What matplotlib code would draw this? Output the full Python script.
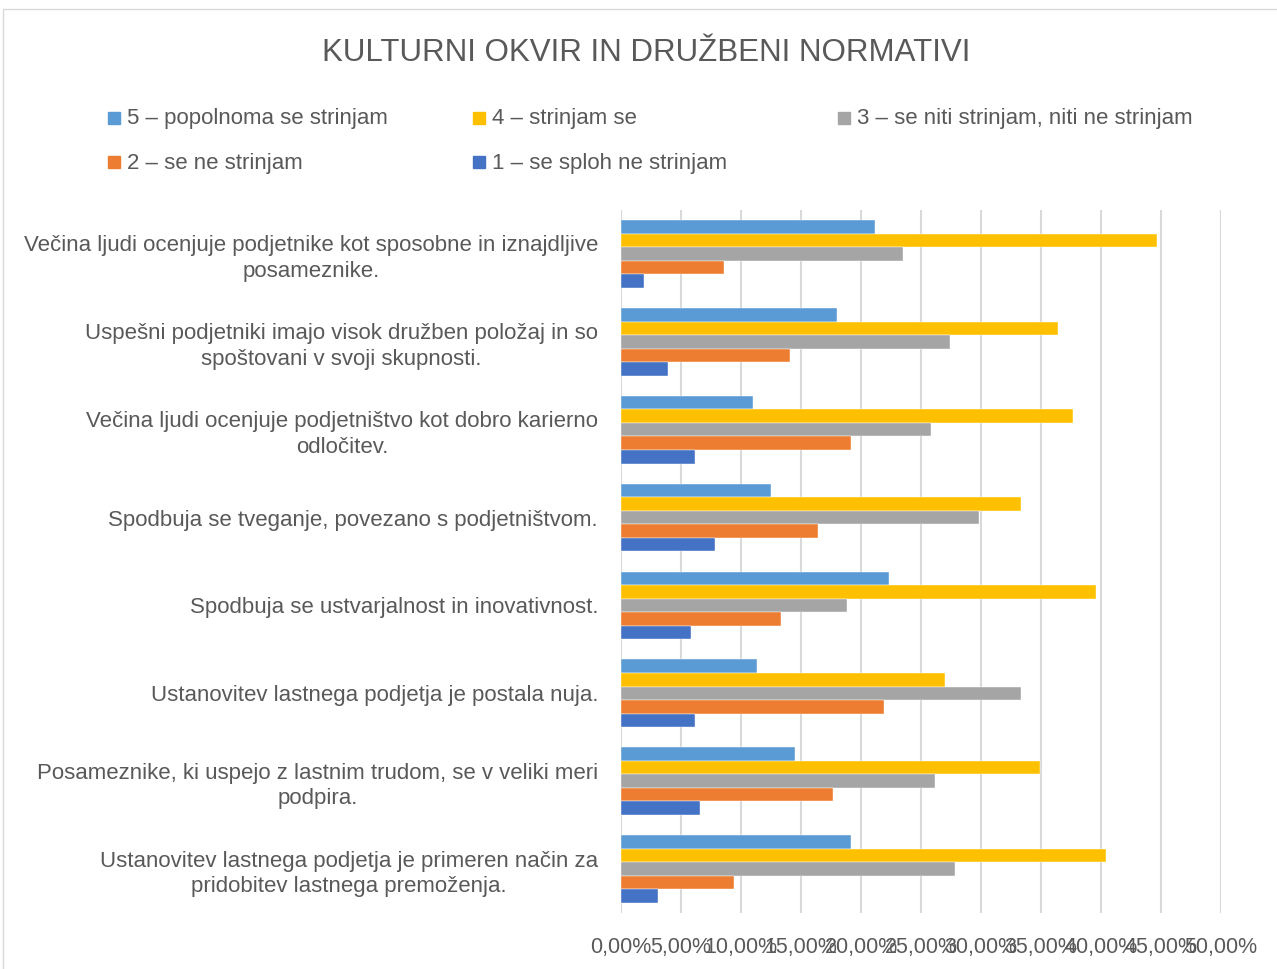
import matplotlib.pyplot as plt
from matplotlib.patches import Rectangle
from matplotlib.ticker import FuncFormatter

plt.rcParams['font.family'] = ['Liberation Sans', 'DejaVu Sans']

# Data (shares of respondents, %)
categories = [
    "Večina ljudi ocenjuje podjetnike kot sposobne in iznajdljive\nposameznike.",
    "Uspešni podjetniki imajo visok družben položaj in so\nspoštovani v svoji skupnosti.",
    "Večina ljudi ocenjuje podjetništvo kot dobro karierno\nodločitev.",
    "Spodbuja se tveganje, povezano s podjetništvom.",
    "Spodbuja se ustvarjalnost in inovativnost.",
    "Ustanovitev lastnega podjetja je postala nuja.",
    "Posameznike, ki uspejo z lastnim trudom, se v veliki meri\npodpira.",
    "Ustanovitev lastnega podjetja je primeren način za\npridobitev lastnega premoženja.",
]
series_names = [
    "5 – popolnoma se strinjam",
    "4 – strinjam se",
    "3 – se niti strinjam, niti ne strinjam",
    "2 – se ne strinjam",
    "1 – se sploh ne strinjam",
]
s5 = [21.2, 18.0, 11.0, 12.5, 22.3, 11.3, 14.5, 19.2]
s4 = [44.7, 36.4, 37.7, 33.3, 39.6, 27.0, 34.9, 40.4]
s3 = [23.5, 27.4, 25.8, 29.8, 18.8, 33.3, 26.2, 27.8]
s2 = [8.6, 14.1, 19.2, 16.4, 13.3, 21.9, 17.7, 9.4]
s1 = [1.9, 3.9, 6.2, 7.8, 5.8, 6.2, 6.6, 3.1]
values = [s5, s4, s3, s2, s1]
colors = ['#5B9BD5', '#FFC000', '#A5A5A5', '#ED7D31', '#4472C4']

text_color = '#595959'
grid_color = '#D9D9D9'

W, H = 1277, 969
fig = plt.figure(figsize=(W / 100, H / 100), dpi=100)
ax = fig.add_axes([621 / W, 1 - 913 / H, 600 / W, 703 / H])

h = 0.154
for j, vals in enumerate(values):
    pos = [i + (j - 2) * h for i in range(len(categories))]
    ax.barh(pos, vals, height=h, color=colors[j], edgecolor='white', linewidth=0.3)

ax.set_ylim(len(categories) - 0.5, -0.5)
ax.set_xlim(0, 50)
ax.set_xticks(range(0, 51, 5))
ax.xaxis.set_major_formatter(FuncFormatter(lambda v, p: f"{v:.2f}".replace('.', ',') + '%'))
ax.set_yticks(range(len(categories)))
ax.set_yticklabels(categories, multialignment='center', linespacing=1.3)
ax.tick_params(axis='y', length=0, pad=16.5, labelsize=16, labelcolor=text_color)
ax.tick_params(axis='x', length=0, pad=17, labelsize=15.5, labelcolor=text_color)
ax.grid(axis='x', color=grid_color, linewidth=1.5)
ax.set_axisbelow(True)
for sp in ax.spines.values():
    sp.set_visible(False)

fig.text(646 / W, 1 - 53 / H, "KULTURNI OKVIR IN DRUŽBENI NORMATIVI",
         ha='center', va='center', fontsize=22.5, color=text_color)

# legend laid out in three equal columns
col_x = [108, 473, 838]
row_y = [118, 162]
for j, name in enumerate(series_names):
    x = col_x[j % 3]
    y = row_y[j // 3]
    fig.add_artist(Rectangle((x / W, 1 - (y + 6) / H), 12 / W, 12 / H,
                             transform=fig.transFigure, color=colors[j]))
    fig.text((x + 19) / W, 1 - (y + 1) / H, name, ha='left', va='center',
             fontsize=16, color=text_color)

# chart border
fig.add_artist(Rectangle((3 / W, -0.05), 1.2, 1 - 9 / H + 0.05, transform=fig.transFigure,
                         fill=False, edgecolor=grid_color, linewidth=1))

fig.savefig('out.png', dpi=100)
